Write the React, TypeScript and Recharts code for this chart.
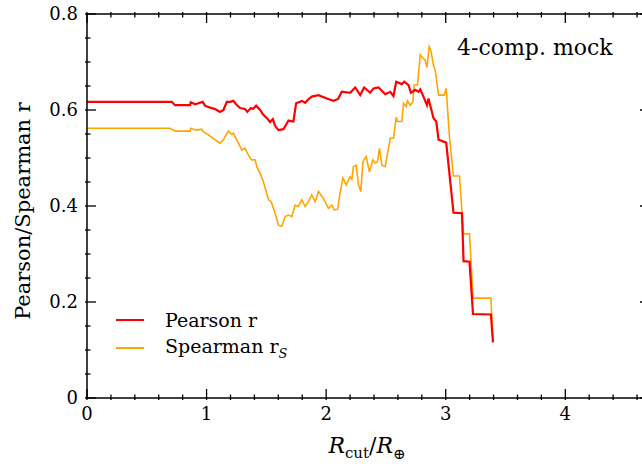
import React from "react";
import { Legend, Line, LineChart, XAxis, YAxis } from "recharts";

// Pearson r vs cut radius
const pearsonX = [
  0, 0.709, 0.736, 0.862, 0.868, 0.904, 0.931, 0.968, 0.987, 1.029, 1.071, 1.113,
  1.141, 1.169, 1.197, 1.224, 1.247, 1.28, 1.322, 1.341, 1.37, 1.387, 1.414, 1.448,
  1.475, 1.504, 1.531, 1.554, 1.573, 1.601, 1.643, 1.685, 1.726, 1.749, 1.797, 1.824,
  1.849, 1.88, 1.936, 2.006, 2.061, 2.1, 2.131, 2.201, 2.243, 2.285, 2.318, 2.368,
  2.396, 2.438, 2.494, 2.536, 2.563, 2.586, 2.633, 2.653, 2.689, 2.709, 2.745, 2.772,
  2.787, 2.814, 2.843, 2.856, 2.87, 2.898, 2.921, 2.94, 3.004, 3.065, 3.136, 3.149,
  3.199, 3.228, 3.378, 3.395,
];
const pearsonY = [
  0.617, 0.617, 0.61, 0.61, 0.616, 0.612, 0.614, 0.617, 0.609, 0.605, 0.602, 0.596,
  0.6, 0.617, 0.617, 0.619, 0.612, 0.604, 0.602, 0.596, 0.604, 0.602, 0.609, 0.6,
  0.59, 0.583, 0.575, 0.581, 0.567, 0.558, 0.56, 0.578, 0.576, 0.614, 0.619, 0.615,
  0.622, 0.628, 0.631, 0.624, 0.619, 0.623, 0.638, 0.636, 0.647, 0.631, 0.647, 0.636,
  0.645, 0.647, 0.633, 0.638, 0.629, 0.659, 0.654, 0.659, 0.652, 0.636, 0.642, 0.638,
  0.643, 0.628, 0.61, 0.624, 0.61, 0.583, 0.576, 0.538, 0.532, 0.386, 0.385, 0.285,
  0.284, 0.175, 0.174, 0.116,
];

// Spearman r_S
const spearmanX = [
  0, 0.695, 0.736, 0.862, 0.868, 0.912, 0.96, 0.973, 1.015, 1.071, 1.113, 1.141,
  1.182, 1.211, 1.224, 1.266, 1.295, 1.322, 1.35, 1.378, 1.406, 1.42, 1.448, 1.475,
  1.498, 1.519, 1.54, 1.573, 1.601, 1.629, 1.657, 1.685, 1.713, 1.741, 1.768, 1.797,
  1.824, 1.852, 1.88, 1.908, 1.936, 1.977, 2.019, 2.048, 2.067, 2.095, 2.111, 2.14,
  2.167, 2.201, 2.215, 2.228, 2.251, 2.27, 2.29, 2.307, 2.335, 2.362, 2.391, 2.41,
  2.429, 2.446, 2.466, 2.494, 2.536, 2.563, 2.586, 2.597, 2.633, 2.647, 2.669, 2.68,
  2.703, 2.726, 2.736, 2.764, 2.787, 2.809, 2.828, 2.843, 2.862, 2.876, 2.898, 2.912,
  2.94, 2.987, 3.004, 3.031, 3.065, 3.115, 3.149, 3.199, 3.228, 3.378, 3.395,
];
const spearmanY = [
  0.562, 0.562, 0.556, 0.556, 0.562, 0.558, 0.56, 0.555, 0.548, 0.538, 0.531, 0.538,
  0.556, 0.549, 0.552, 0.531, 0.517, 0.52, 0.506, 0.496, 0.496, 0.482, 0.468, 0.451,
  0.43, 0.413, 0.409, 0.385, 0.36, 0.358, 0.378, 0.381, 0.378, 0.402, 0.399, 0.413,
  0.399, 0.409, 0.423, 0.409, 0.43, 0.416, 0.395, 0.402, 0.392, 0.393, 0.419, 0.458,
  0.444, 0.461, 0.456, 0.482, 0.485, 0.444, 0.43, 0.492, 0.503, 0.471, 0.496, 0.489,
  0.492, 0.52, 0.485, 0.482, 0.541, 0.541, 0.585, 0.576, 0.576, 0.614, 0.607, 0.619,
  0.61, 0.618, 0.652, 0.652, 0.715, 0.708, 0.704, 0.689, 0.732, 0.724, 0.692, 0.683,
  0.631, 0.631, 0.645, 0.544, 0.4625, 0.4625, 0.342, 0.342, 0.208, 0.208, 0.117,
];

const xTicks = [
  0, 0.2, 0.4, 0.6, 0.8, 1, 1.2, 1.4, 1.6, 1.8, 2, 2.2, 2.4, 2.6, 2.8, 3, 3.2, 3.4,
  3.6, 3.8, 4, 4.2, 4.4, 4.6,
];
const yTicks = [
  0, 0.05, 0.1, 0.15, 0.2, 0.25, 0.3, 0.35, 0.4, 0.45, 0.5, 0.55, 0.6, 0.65, 0.7,
  0.75, 0.8,
];
const xMajor = [0, 1, 2, 3, 4];
const yMajor = [0, 0.2, 0.4, 0.6, 0.8];

const pearson = pearsonX.map((x, i) => ({ x, y: pearsonY[i] }));
const spearman = spearmanX.map((x, i) => ({ x, y: spearmanY[i] }));

const FONT = "DejaVu Serif";
const AXIS = { stroke: "#000", strokeWidth: 1.5 };
const isMajor = (list: number[], v: number) =>
  list.some((m) => Math.abs(m - v) < 1e-6);

const BottomTick = ({ x, y, payload }: any) => {
  const major = isMajor(xMajor, payload.value);
  return (
    <g>
      <line x1={x} x2={x} y1={y} y2={y - (major ? 11 : 5.5)} stroke="#000" strokeWidth={1.3} />
      {major && (
        <text x={x} y={y + 20} textAnchor="middle" fontSize={18} fontFamily={FONT} fill="#000">
          {payload.value}
        </text>
      )}
    </g>
  );
};

const TopTick = ({ x, y, payload }: any) => {
  const major = isMajor(xMajor, payload.value);
  return <line x1={x} x2={x} y1={y} y2={y + (major ? 11 : 5.5)} stroke="#000" strokeWidth={1.3} />;
};

const LeftTick = ({ x, y, payload }: any) => {
  const major = isMajor(yMajor, payload.value);
  return (
    <g>
      <line x1={x} x2={x + (major ? 11 : 5.5)} y1={y} y2={y} stroke="#000" strokeWidth={1.3} />
      {major && (
        <text
          x={x - 7}
          y={y}
          dy="0.36em"
          textAnchor="end"
          fontSize={18}
          fontFamily={FONT}
          fill="#000"
        >
          {payload.value}
        </text>
      )}
    </g>
  );
};

const RightTick = ({ x, y, payload }: any) => {
  const major = isMajor(yMajor, payload.value);
  return <line x1={x} x2={x - (major ? 11 : 5.5)} y1={y} y2={y} stroke="#000" strokeWidth={1.3} />;
};

const LegendBox = () => (
  <div style={{ fontFamily: FONT, fontSize: 19, color: "#000" }}>
    {[
      { color: "#ff0000", width: 2.2, label: <>Pearson r</> },
      {
        color: "#ffa500",
        width: 1.6,
        label: (
          <>
            Spearman r
            <sub style={{ fontStyle: "italic", fontSize: 13 }}>S</sub>
          </>
        ),
      },
    ].map((row, i) => (
      <div key={i} style={{ display: "flex", alignItems: "center", height: 28 }}>
        <div style={{ width: 28, height: row.width, background: row.color, marginRight: 21 }} />
        <span style={{ whiteSpace: "nowrap" }}>{row.label}</span>
      </div>
    ))}
  </div>
);

export default function App() {
  return (
    <>
      <style>{"body{margin:0;overflow:hidden}"}</style>
      <LineChart
        width={642}
        height={464}
        margin={{ top: 13, right: -8, bottom: 0, left: 0 }}
      >
        <XAxis
          xAxisId="b"
          dataKey="x"
          type="number"
          domain={[0, 4.7]}
          allowDataOverflow
          ticks={xTicks}
          interval={0}
          height={66}
          tickSize={0}
          tickLine={false}
          axisLine={AXIS}
          tick={<BottomTick />}
          label={() => (
            <text x={367} y={453} textAnchor="middle" fontSize={22} fontFamily={FONT} fill="#000">
              <tspan fontStyle="italic">R</tspan>
              <tspan fontSize={15} dy={5}>cut</tspan>
              <tspan dy={-5}>/</tspan>
              <tspan fontStyle="italic">R</tspan>
              <tspan fontSize={15} dy={6}>⊕</tspan>
            </text>
          )}
        />
        <XAxis
          xAxisId="t"
          orientation="top"
          dataKey="x"
          type="number"
          domain={[0, 4.7]}
          allowDataOverflow
          ticks={xTicks}
          interval={0}
          height={1}
          tickSize={0}
          tickLine={false}
          axisLine={AXIS}
          tick={<TopTick />}
          label={() => (
            <text x={457} y={55} fontSize={22} fontFamily={FONT} fill="#000">
              4-comp. mock
            </text>
          )}
        />
        <YAxis
          yAxisId="l"
          type="number"
          domain={[0, 0.8]}
          allowDataOverflow
          ticks={yTicks}
          interval={0}
          width={87}
          tickSize={0}
          tickLine={false}
          axisLine={AXIS}
          tick={<LeftTick />}
          label={() => (
            <text
              x={23}
              y={211}
              transform="rotate(-90, 23, 211)"
              textAnchor="middle"
              dominantBaseline="central"
              fontSize={21}
              fontFamily={FONT}
              fill="#000"
            >
              Pearson/Spearman r
            </text>
          )}
        />
        <YAxis
          yAxisId="r"
          orientation="right"
          type="number"
          domain={[0, 0.8]}
          allowDataOverflow
          ticks={yTicks}
          interval={0}
          width={1}
          tickSize={0}
          tickLine={false}
          axisLine={AXIS}
          tick={<RightTick />}
        />
        <Legend
          layout="vertical"
          align="center"
          verticalAlign="middle"
          content={() => <LegendBox />}
          wrapperStyle={{ left: 116, top: 306, width: 220, height: 60 }}
        />
        <Line
          data={spearman}
          dataKey="y"
          xAxisId="b"
          yAxisId="l"
          name="Spearman r_S"
          type="linear"
          stroke="#ffa500"
          strokeWidth={1.6}
          dot={false}
          activeDot={false}
          isAnimationActive={false}
        />
        <Line
          data={pearson}
          dataKey="y"
          xAxisId="b"
          yAxisId="l"
          name="Pearson r"
          type="linear"
          stroke="#ff0000"
          strokeWidth={2.2}
          dot={false}
          activeDot={false}
          isAnimationActive={false}
        />
      </LineChart>
    </>
  );
}
